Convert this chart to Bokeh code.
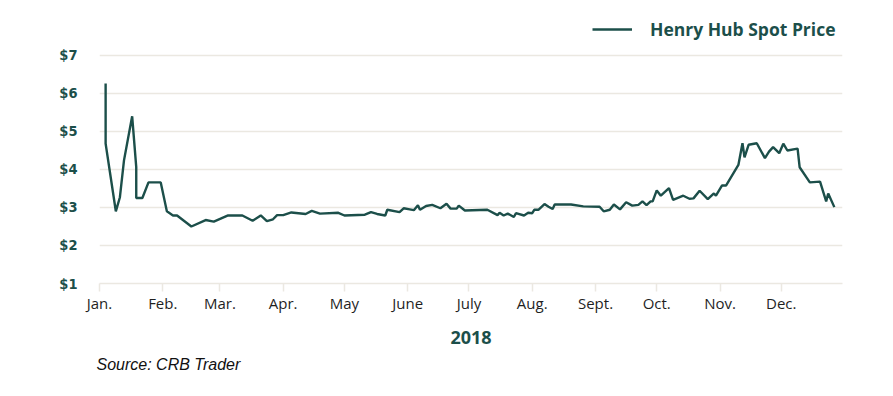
import pandas as pd
from bokeh.plotting import figure
from bokeh.models import (ColumnDataSource, FixedTicker, Legend, LegendItem,
                          Title, Range1d)
from bokeh.embed import file_html
from bokeh.resources import INLINE

# ---- data ----
dates = [
    "2018-01-04", "2018-01-04", "2018-01-09", "2018-01-11", "2018-01-13",
    "2018-01-17", "2018-01-19", "2018-01-19", "2018-01-22", "2018-01-25",
    "2018-01-31", "2018-02-03", "2018-02-06", "2018-02-08", "2018-02-15",
    "2018-02-22", "2018-02-26", "2018-03-05", "2018-03-12", "2018-03-17",
    "2018-03-21", "2018-03-24", "2018-03-27", "2018-03-29", "2018-04-01",
    "2018-04-05", "2018-04-12", "2018-04-15", "2018-04-19", "2018-04-28",
    "2018-05-01", "2018-05-11", "2018-05-14", "2018-05-17", "2018-05-21",
    "2018-05-22", "2018-05-28", "2018-05-30", "2018-06-02", "2018-06-04",
    "2018-06-06", "2018-06-07", "2018-06-10", "2018-06-13", "2018-06-17",
    "2018-06-20", "2018-06-22", "2018-06-25", "2018-06-26", "2018-06-29",
    "2018-07-10", "2018-07-15", "2018-07-16", "2018-07-18", "2018-07-20",
    "2018-07-23", "2018-07-24", "2018-07-28", "2018-07-30", "2018-08-01",
    "2018-08-02", "2018-08-04", "2018-08-07", "2018-08-09", "2018-08-11",
    "2018-08-12", "2018-08-20", "2018-08-26", "2018-09-03", "2018-09-05",
    "2018-09-08", "2018-09-10", "2018-09-13", "2018-09-16", "2018-09-19",
    "2018-09-22", "2018-09-24", "2018-09-26", "2018-09-28", "2018-09-29",
    "2018-10-01", "2018-10-03", "2018-10-07", "2018-10-09", "2018-10-14",
    "2018-10-17", "2018-10-19", "2018-10-22", "2018-10-26", "2018-10-29",
    "2018-10-30", "2018-11-02", "2018-11-04", "2018-11-10", "2018-11-12",
    "2018-11-13", "2018-11-15", "2018-11-19", "2018-11-23", "2018-11-25",
    "2018-11-27", "2018-11-30", "2018-12-02", "2018-12-04", "2018-12-09",
    "2018-12-10", "2018-12-15", "2018-12-20", "2018-12-23", "2018-12-24",
    "2018-12-27",
]
prices = [
    6.26, 4.68, 2.90, 3.27, 4.24,
    5.40, 4.06, 3.25, 3.25, 3.66,
    3.66, 2.90, 2.79, 2.79, 2.50,
    2.67, 2.63, 2.79, 2.79, 2.65,
    2.79, 2.64, 2.69, 2.80, 2.80,
    2.87, 2.83, 2.91, 2.84, 2.86,
    2.79, 2.81, 2.88, 2.83, 2.79,
    2.94, 2.88, 2.98, 2.95, 2.93,
    3.06, 2.94, 3.04, 3.07, 2.98,
    3.10, 2.97, 2.97, 3.05, 2.92,
    2.94, 2.80, 2.86, 2.79, 2.84,
    2.75, 2.85, 2.79, 2.86, 2.85,
    2.94, 2.94, 3.09, 3.02, 2.96,
    3.08, 3.08, 3.03, 3.02, 2.90,
    2.94, 3.08, 2.95, 3.14, 3.05,
    3.07, 3.16, 3.06, 3.16, 3.16,
    3.45, 3.31, 3.51, 3.20, 3.31,
    3.23, 3.24, 3.44, 3.22, 3.37,
    3.31, 3.58, 3.58, 4.12, 4.69,
    4.32, 4.65, 4.69, 4.30, 4.47,
    4.59, 4.43, 4.68, 4.50, 4.55,
    4.06, 3.66, 3.68, 3.16, 3.37,
    3.01,
]
series_name = "Henry Hub Spot Price"

month_starts = ["2018-01-01", "2018-02-01", "2018-03-01", "2018-04-01",
                "2018-05-01", "2018-06-01", "2018-07-01", "2018-08-01",
                "2018-09-01", "2018-10-01", "2018-11-01", "2018-12-01"]
month_labels = ["Jan.", "Feb.", "Mar.", "Apr.", "May", "June", "July",
                "Aug.", "Sept.", "Oct.", "Nov.", "Dec."]
y_ticks = [1, 2, 3, 4, 5, 6, 7]
y_labels = ["$1", "$2", "$3", "$4", "$5", "$6", "$7"]
year_label = "2018"
source_text = "Source: CRB Trader"

# ---- styling ----
TEAL = "#1c4f4a"
GRID = "#ebe8e1"

def ms(s):
    return float(pd.Timestamp(s).value // 10**6)

src = ColumnDataSource(dict(date=pd.to_datetime(dates), price=prices))

# frame spans y=10..283 px; the $1..$7 band sits at 283..55 px,
# upper part of the frame hosts the legend
p = figure(width=885, height=388, x_axis_type="datetime",
           output_backend="svg", toolbar_location=None,
           x_range=Range1d(ms("2018-01-01"), ms("2018-12-31")),
           y_range=Range1d(1, 8.184),
           min_border_left=99, min_border_right=43,
           min_border_top=10, min_border_bottom=105)
p.outline_line_color = None
p.background_fill_color = "white"
p.border_fill_color = "white"

r = p.line("date", "price", source=src, line_color=TEAL, line_width=2.4)

# x axis
xa = p.xaxis[0]
xa.ticker = FixedTicker(ticks=[ms(d) for d in month_starts])
xa.major_label_overrides = {ms(d): lab for d, lab in zip(month_starts, month_labels)}
xa.axis_line_color = GRID
xa.axis_line_width = 1.5
xa.major_tick_line_color = GRID
xa.major_tick_line_width = 1.5
xa.major_tick_out = 8
xa.major_tick_in = 0
xa.minor_tick_line_color = None
xa.major_label_text_font = "Open Sans"
xa.major_label_text_font_size = "15px"
xa.major_label_text_color = "#1f1f1f"
xa.major_label_standoff = 1
xa.axis_label = year_label
xa.axis_label_text_font = "Open Sans"
xa.axis_label_text_font_style = "bold"
xa.axis_label_text_font_size = "18px"
xa.axis_label_text_color = TEAL
xa.axis_label_standoff = 15

# y axis
ya = p.yaxis[0]
ya.ticker = FixedTicker(ticks=y_ticks)
ya.major_label_overrides = {float(t): lab for t, lab in zip(y_ticks, y_labels)}
ya.axis_line_color = None
ya.major_tick_line_color = None
ya.minor_tick_line_color = None
ya.major_tick_out = 0
ya.major_tick_in = 0
ya.major_label_standoff = 22
ya.major_label_text_font = "DejaVu Sans Condensed"
ya.major_label_text_font_style = "bold"
ya.major_label_text_font_size = "14.5px"
ya.major_label_text_color = TEAL

p.xgrid.visible = False
p.ygrid.ticker = FixedTicker(ticks=y_ticks)
p.ygrid.grid_line_color = GRID
p.ygrid.grid_line_width = 1.5

# legend (top band of the frame, right-aligned)
legend = Legend(items=[LegendItem(label=series_name, renderers=[r])],
                location=(493, 242), orientation="horizontal",
                glyph_width=40, glyph_height=16, label_standoff=18,
                padding=0, margin=0, spacing=0,
                border_line_color=None, background_fill_alpha=0,
                label_text_font="Open Sans", label_text_font_style="bold",
                label_text_font_size="17.5px", label_text_color=TEAL,
                label_height=16)
p.add_layout(legend)

# source note below the axis
p.add_layout(Title(text=source_text, align="left", offset=-3, standoff=15,
                   text_font="Liberation Sans", text_font_style="italic",
                   text_font_size="16px", text_color="#111111"), "below")

open("out.html", "w").write(file_html(p, INLINE))
